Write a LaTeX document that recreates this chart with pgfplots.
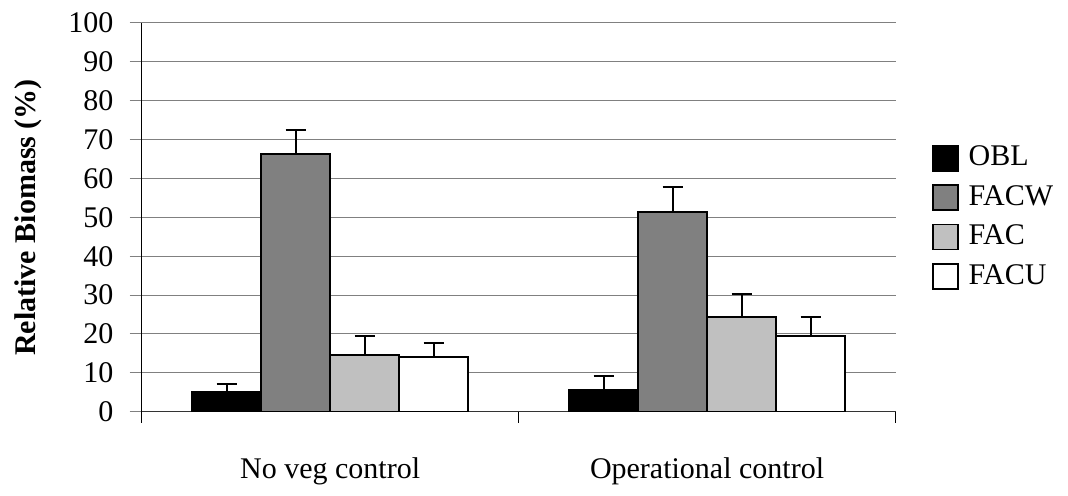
\documentclass[border=0pt]{standalone}
\usepackage{fontspec}
\setmainfont{Liberation Serif}
\usepackage{pgfplots}
\pgfplotsset{compat=1.18}
\usepackage{pgfplotstable}

\pgfplotstableread{
x y e
0 5.0 2.2
1 5.6 3.6
}\obl
\pgfplotstableread{
x y e
0 66.3 6.1
1 51.3 6.5
}\facw
\pgfplotstableread{
x y e
0 14.6 4.8
1 24.3 6.1
}\fac
\pgfplotstableread{
x y e
0 14.0 3.6
1 19.5 4.8
}\facu

\definecolor{cfacw}{HTML}{808080}
\definecolor{cfac}{HTML}{C0C0C0}

\begin{document}
\fontsize{15pt}{18pt}\selectfont
\begin{tikzpicture}
\begin{axis}[
  scale only axis, width=376.9pt, height=194.35pt,
  font=\fontsize{15pt}{18pt}\selectfont,
  ybar=0pt, bar width=0.183,
  xmin=-0.5, xmax=1.5, ymin=0, ymax=100,
  axis x line=bottom, axis y line=left,
  axis line style={-},
  x axis line style={line width=0.7pt, black!80},
  y axis line style={line width=0.5pt, black},
  xtick={0,1}, xticklabels={No veg control, Operational control},
  major x tick style={draw=none},
  minor xtick={-0.5,0.5,1.5},
  minor x tick style={black, line width=0.5pt},
  minor tick length=5.5pt,
  xtick align=outside,
  ytick={0,10,...,100},
  ytick align=outside,
  major tick length=6pt,
  y tick style={gray, line width=0.5pt},
  ymajorgrids, grid style={gray, line width=0.5pt},
  /pgf/number format/assume math mode=true,
  xticklabel style={yshift=-12pt},
  yticklabel style={xshift=-3pt},
  ylabel={\textbf{Relative Biomass (\%)}},
  ylabel style={at={(axis description cs:-0.151,0.5)}, anchor=center},
  legend style={at={(axis description cs:1,0.5)}, anchor=west, xshift=15pt,
    draw=none, fill=none, row sep=3.5pt, font=\fontsize{15pt}{18pt}\selectfont,
    /tikz/every odd column/.style={column sep=3pt}},
  legend cell align=left,
  error bars/y dir=plus, error bars/y explicit,
  error bars/error bar style={line width=1pt, black},
  error bars/error mark options={rotate=90, mark size=5pt, line width=1pt, black},
  legsq/.style={legend image code/.code={\draw[##1, line width=0.9pt] (0pt,-6.25pt) rectangle (12.5pt,6.25pt);}},
]
\addplot[fill=black, draw=black, line width=0.9pt, bar shift=-0.2745, legsq] table[x=x, y=y, y error=e] {\obl};
\addplot[fill=cfacw, draw=black, line width=0.9pt, bar shift=-0.0915, legsq] table[x=x, y=y, y error=e] {\facw};
\addplot[fill=cfac, draw=black, line width=0.9pt, bar shift=0.0915, legsq] table[x=x, y=y, y error=e] {\fac};
\addplot[fill=white, draw=black, line width=0.9pt, bar shift=0.2745, legsq] table[x=x, y=y, y error=e] {\facu};
\legend{OBL, FACW, FAC, FACU}
\end{axis}
\path (-70.85pt,-36.65pt) rectangle (463.15pt,205.85pt);
\end{tikzpicture}
\end{document}
